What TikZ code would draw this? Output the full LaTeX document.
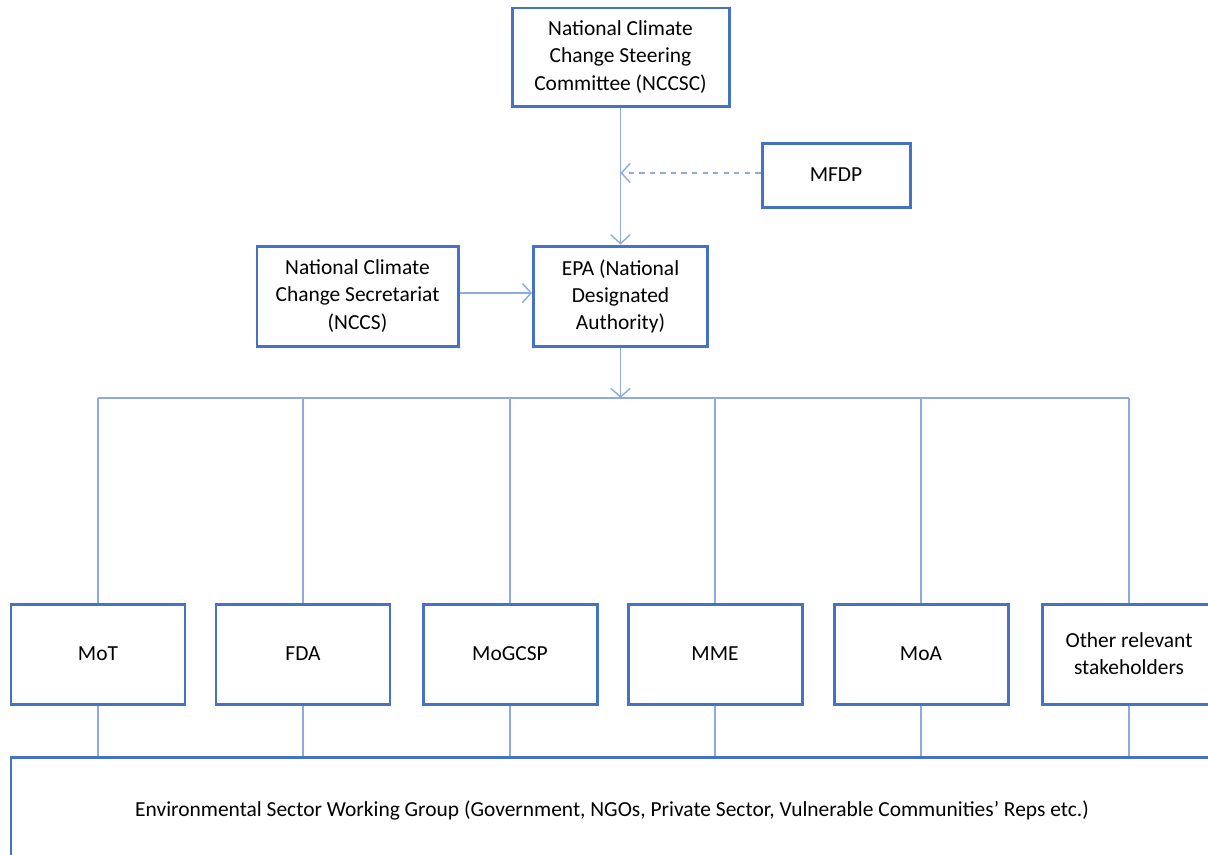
\documentclass[tikz,border=0pt]{standalone}
\usepackage{fontspec}
\setmainfont{Carlito}
\usepackage{tikz}
\usetikzlibrary{arrows.meta,positioning}
\definecolor{boxblue}{HTML}{4472C4}
\definecolor{lineblue}{HTML}{8FAADC}
\tikzstyle{org}=[draw=boxblue, line width=1.7pt, fill=white, align=center, minimum width=3.48cm, minimum height=2cm, inner sep=2pt]
\tikzstyle{link}=[draw=lineblue, line width=0.8pt]

\begin{document}
\begin{tikzpicture}[>={Straight Barb[length=5pt,width=11pt]},font=\fontsize{12.2}{15.4}\selectfont,align=center]
        \clip (0,0) rectangle (24.16,-17.08);
        \fill[white] (0,0) rectangle (24.16,-17.08);
        \node [org, minimum width=4.34cm, minimum height=1.96cm] (nccsc) at (12.41,-1.14) {National Climate\\Change Steering\\Committee (NCCSC)};
        \node [org, minimum width=2.96cm, minimum height=1.28cm] (mfdp) at (16.72,-3.5) {MFDP};
        \node [org] (epa) at (12.41,-5.92) {EPA (National\\Designated\\Authority)};
        \node [org, minimum width=4.02cm] (nccs) [left of=epa, node distance=5.26cm] {National Climate\\Change Secretariat\\(NCCS)};
        \node [org] (mot) at (1.96,-13.08) {MoT};
        \node [org] (fda) [right of=mot, node distance=4.1cm] {FDA};
        \node [org] (mogcsp) [right of=fda, node distance=4.14cm] {MoGCSP};
        \node [org] (mme) [right of=mogcsp, node distance=4.1cm] {MME};
        \node [org] (moa) [right of=mme, node distance=4.12cm] {MoA};
        \node [org] (other) [right of=moa, node distance=4.16cm] {Other relevant\\stakeholders};
        \node [org, minimum width=24.04cm, minimum height=2.12cm] (eswg) at (12.24,-16.2) {Environmental Sector Working Group (Government, NGOs, Private Sector, Vulnerable Communities’ Reps etc.)};
        \coordinate (bus) at (12.41,-7.96);
        \coordinate (mfdpin) at (12.41,-3.46);
        % top part
        \draw[link,->] (nccsc) -- (epa);
        \draw[link,dashed,->] (mfdp.west |- mfdpin) -- (mfdpin);
        \draw[link,->] (nccs.east |- 0,-5.86) -- (epa.west |- 0,-5.86);
        \draw[link,->] (epa) -- (bus);
        \draw[link] (mot |- bus) -- (other |- bus);
        % ministries
        \path[link]
        (mot |- bus) edge (mot) (mot) edge (mot |- eswg.north)
        (fda |- bus) edge (fda) (fda) edge (fda |- eswg.north)
        (mogcsp |- bus) edge (mogcsp) (mogcsp) edge (mogcsp |- eswg.north)
        (mme |- bus) edge (mme) (mme) edge (mme |- eswg.north)
        (moa |- bus) edge (moa) (moa) edge (moa |- eswg.north)
        (other |- bus) edge (other) (other) edge (other |- eswg.north);
    \end{tikzpicture}
\end{document}
